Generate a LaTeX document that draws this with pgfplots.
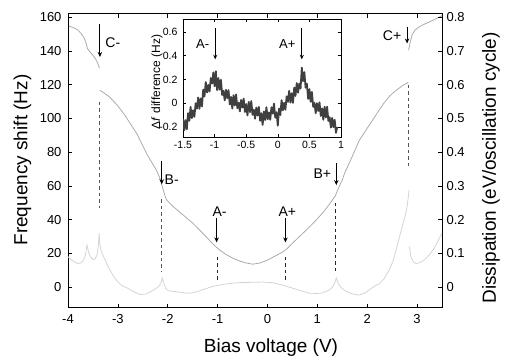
\documentclass[border=0pt]{standalone}
\usepackage{fontspec}
\setmainfont{Liberation Sans}
\usepackage{pgfplots}
\pgfplotsset{compat=1.18}
\usetikzlibrary{arrows.meta}
\definecolor{freqc}{HTML}{ABABAB}
\definecolor{dissc}{HTML}{D4D4D4}
\definecolor{dashc}{HTML}{555555}
\definecolor{insetc}{HTML}{404040}

\pgfplotstableread{
x y
-4.00 155
-3.90 154
-3.80 152.5
-3.74 150.5
-3.68 148
-3.64 145
-3.61 141.5
-3.56 139.5
-3.50 137.5
-3.44 135
-3.40 132.5
-3.37 130
}\freqA

\pgfplotstableread{
x y
-3.36 116.7
-3.26 114.8
-3.16 112.6
-3.00 107.5
-2.86 102
-2.74 96.5
-2.62 91
-2.52 85
-2.42 79
-2.32 74
-2.22 69
-2.15 64
-2.10 58.7
-2.06 54.5
-2.02 51.6
-1.90 48
-1.76 44.5
-1.62 41
-1.50 38
-1.36 33.8
-1.22 29.6
-1.10 25.7
-0.96 22
-0.84 19.5
-0.70 17.2
-0.56 15.5
-0.44 14.4
-0.30 13.6
-0.16 14.2
0.00 16
0.14 18.2
0.30 20.7
0.40 23
0.50 26
0.66 30.5
0.84 35.6
1.00 40.5
1.10 43.8
1.20 47.5
1.30 51.6
1.36 54
1.40 57
1.46 61
1.50 63.5
1.54 67
1.60 71
1.70 77.5
1.84 87
1.94 91.5
2.04 96
2.14 100.5
2.24 105
2.34 109.3
2.44 113
2.54 115.8
2.64 118
2.72 119.8
2.80 121
2.82 121.5
}\freqB

\pgfplotstableread{
x y
2.83 140.5
2.86 145
2.90 149.5
2.96 152.5
3.05 154.5
3.15 156
3.30 158
3.40 159.5
3.50 161
}\freqC

\pgfplotstableread{
x y
-4.00 0.090
-3.94 0.082
-3.88 0.075
-3.80 0.070
-3.74 0.072
-3.69 0.080
-3.65 0.095
-3.62 0.125
-3.59 0.105
-3.55 0.090
-3.50 0.082
-3.46 0.083
-3.42 0.095
-3.39 0.125
-3.375 0.160
-3.36 0.125
-3.33 0.105
-3.28 0.088
-3.20 0.062
-3.10 0.035
-3.00 0.015
-2.90 0.003
-2.82 -0.002
-2.70 -0.012
-2.56 -0.022
-2.45 -0.021
-2.35 -0.014
-2.25 -0.006
-2.17 0.004
-2.13 0.014
-2.11 0.027
-2.08 0.012
-2.04 -0.004
-1.98 -0.011
-1.88 -0.013
-1.76 -0.015
-1.62 -0.018
-1.50 -0.017
-1.36 -0.011
-1.22 -0.004
-1.10 0.002
-0.96 0.006
-0.80 0.010
-0.60 0.013
-0.36 0.014
-0.10 0.015
0.10 0.013
0.30 0.006
0.50 -0.003
0.70 -0.012
0.84 -0.018
1.00 -0.019
1.10 -0.0175
1.22 -0.010
1.30 -0.001
1.35 0.013
1.38 0.027
1.42 0.010
1.48 -0.002
1.56 -0.011
1.64 -0.017
1.75 -0.022
1.84 -0.0235
1.95 -0.018
2.05 -0.007
2.15 0.003
2.24 0.010
2.34 0.025
2.44 0.050
2.52 0.078
2.58 0.110
2.64 0.145
2.70 0.178
2.76 0.210
2.80 0.238
2.84 0.288
}\dissA

\pgfplotstableread{
x y
2.845 0.120
2.88 0.088
2.93 0.074
2.98 0.070
3.05 0.072
3.15 0.081
3.24 0.094
3.35 0.117
3.50 0.160
}\dissB

\pgfplotstableread{
x y
-1.50 -0.13
-1.48 -0.227
-1.46 -0.143
-1.44 -0.22
-1.42 -0.084
-1.40 -0.148
-1.38 -0.032
-1.36 -0.126
-1.34 -0.06
-1.32 -0.115
-1.30 -0.001
-1.28 -0.046
-1.26 0.048
-1.24 -0.047
-1.22 0.04
-1.20 -0.027
-1.18 0.115
-1.16 0.057
-1.14 0.179
-1.12 0.09
-1.10 0.154
-1.08 0.098
-1.06 0.212
-1.04 0.166
-1.02 0.26
-1.00 0.143
-0.98 0.27
-0.96 0.11
-0.94 0.212
-0.92 0.114
-0.90 0.197
-0.88 0.069
-0.86 0.105
-0.84 0.024
-0.82 0.113
-0.80 0.042
-0.78 0.111
-0.76 -0.01
-0.74 0.053
-0.72 -0.045
-0.70 0.068
-0.68 -0.019
-0.66 0.074
-0.64 -0.042
-0.62 0.004
-0.60 -0.069
-0.58 0.027
-0.56 -0.037
-0.54 0.039
-0.52 -0.074
-0.50 -0.008
-0.48 -0.103
-0.46 0.011
-0.44 -0.076
-0.42 0.018
-0.40 -0.098
-0.38 -0.054
-0.36 -0.131
-0.34 -0.037
-0.32 -0.104
-0.30 -0.031
-0.28 -0.148
-0.26 -0.085
-0.24 -0.183
-0.22 -0.07
-0.20 -0.142
-0.18 -0.034
-0.16 -0.136
-0.14 -0.078
-0.12 -0.14
-0.10 -0.034
-0.08 -0.089
-0.06 -0.003
-0.04 -0.122
-0.02 -0.076
0.00 -0.19
0.02 -0.045
0.04 -0.10
0.06 0.025
0.08 -0.06
0.10 0.003
0.12 -0.055
0.14 0.058
0.16 0.011
0.18 0.104
0.20 0.005
0.22 0.084
0.24 0.003
0.26 0.132
0.28 0.061
0.30 0.17
0.32 0.088
0.34 0.165
0.36 0.123
0.38 0.30
0.40 0.186
0.42 0.262
0.44 0.131
0.46 0.164
0.48 0.036
0.50 0.119
0.52 0.012
0.54 0.095
0.56 -0.031
0.58 0.003
0.60 -0.084
0.62 0.0
0.64 -0.066
0.66 0.008
0.68 -0.108
0.70 -0.044
0.72 -0.14
0.74 -0.03
0.76 -0.12
0.78 -0.03
0.80 -0.15
0.82 -0.118
0.84 -0.206
0.86 -0.124
0.88 -0.202
0.90 -0.14
0.92 -0.25
0.94 -0.20
}\inset

\begin{document}
\begin{tikzpicture}
\path[use as bounding box] (-68pt,-50pt) rectangle (437pt,308pt);
\pgfplotsset{
  mainax/.style={
    at={(0pt,0pt)}, anchor=south west,
    scale only axis, width=374pt, height=294pt,
    xmin=-4, xmax=3.5,
    tick align=inside,
    major tick length=4pt,
    every tick/.style={black, line width=0.7pt},
    axis line style={line width=1pt},
    /pgf/number format/assume math mode=true,
    ticklabel style={font=\fontsize{13}{15}\selectfont},
  }
}
\begin{axis}[mainax,
  ymin=-12.4, ymax=162,
  xtick={-4,-3,-2,-1,0,1,2,3},
  xticklabels={-4,-3,-2,-1,0,1,2,3},
  xtick pos=both, xticklabel pos=lower,
  ytick={0,20,40,60,80,100,120,140,160},
  yticklabels={0,20,40,60,80,100,120,140,160},
  ytick pos=left,
  xticklabel style={yshift=-3pt},
  yticklabel style={xshift=-3pt},
]
\addplot[freqc, line width=0.8pt] table {\freqA};
\addplot[freqc, line width=0.8pt] table {\freqB};
\addplot[freqc, line width=0.8pt] table {\freqC};
% dashed markers
\draw[dashc, line width=1.1pt, dash pattern=on 3.5pt off 3pt] (axis cs:-3.36,110) -- (axis cs:-3.36,47);
\draw[dashc, line width=1.1pt, dash pattern=on 3.5pt off 3pt] (axis cs:-2.12,52) -- (axis cs:-2.12,9);
\draw[black!85, line width=1pt, dash pattern=on 3.5pt off 3pt] (axis cs:-1.0,18) -- (axis cs:-1.0,4);
\draw[black!85, line width=1pt, dash pattern=on 3.5pt off 3pt] (axis cs:0.36,18) -- (axis cs:0.36,4);
\draw[black!85, line width=1pt, dash pattern=on 3.5pt off 3pt] (axis cs:1.36,50) -- (axis cs:1.36,9);
\draw[dashc, line width=1.1pt, dash pattern=on 3.5pt off 3pt] (axis cs:2.82,120) -- (axis cs:2.82,70);
% arrows
\draw[-{Stealth[length=5pt,width=4.5pt]}, line width=0.9pt] (axis cs:-3.36,156) -- (axis cs:-3.36,136.5);
\draw[-{Stealth[length=5pt,width=4.5pt]}, line width=0.9pt] (axis cs:-2.12,75) -- (axis cs:-2.12,61);
\draw[-{Stealth[length=5pt,width=4.5pt]}, line width=0.9pt] (axis cs:-1.02,41) -- (axis cs:-1.02,26.5);
\draw[-{Stealth[length=5pt,width=4.5pt]}, line width=0.9pt] (axis cs:0.36,41) -- (axis cs:0.36,26.5);
\draw[-{Stealth[length=5pt,width=4.5pt]}, line width=0.9pt] (axis cs:1.38,73.5) -- (axis cs:1.38,60.5);
\draw[-{Stealth[length=5pt,width=4.5pt]}, line width=0.9pt] (axis cs:2.80,154.5) -- (axis cs:2.80,144.5);
\node[font=\fontsize{14}{16}\selectfont] at (axis cs:-3.1,145) {C-};
\node[font=\fontsize{14}{16}\selectfont] at (axis cs:-1.92,63.5) {B-};
\node[font=\fontsize{14}{16}\selectfont] at (axis cs:-0.96,44.5) {A-};
\node[font=\fontsize{14}{16}\selectfont] at (axis cs:0.40,44.5) {A+};
\node[font=\fontsize{14}{16}\selectfont] at (axis cs:1.10,67.5) {B+};
\node[font=\fontsize{14}{16}\selectfont] at (axis cs:2.50,149) {C+};
\end{axis}

\begin{axis}[mainax,
  ymin=-0.062, ymax=0.81,
  hide x axis,
  ytick={0,0.1,0.2,0.3,0.4,0.5,0.6,0.7,0.8},
  yticklabels={0,0.1,0.2,0.3,0.4,0.5,0.6,0.7,0.8},
  ytick pos=right, yticklabel pos=right,
  yticklabel style={xshift=1pt},
]
\addplot[dissc, line width=0.8pt] table {\dissA};
\addplot[dissc, line width=0.8pt] table {\dissB};
\end{axis}

\begin{axis}[
  at={(115pt,171pt)}, anchor=south west,
  scale only axis, width=158pt, height=118pt,
  xmin=-1.5, xmax=1, ymin=-0.285, ymax=0.71,
  axis background/.style={fill=white},
  tick align=inside,
  major tick length=3pt,
  every tick/.style={black, line width=0.6pt},
  axis line style={line width=0.9pt},
  xtick={-1.5,-1,-0.5,0,0.5,1},
  xticklabels={-1.5,-1,-0.5,0,0.5,1},
  ytick={-0.2,0,0.2,0.4,0.6},
  yticklabels={-0.2,0,0.2,0.4,0.6},
  /pgf/number format/assume math mode=true,
  ticklabel style={font=\fontsize{10.5}{12}\selectfont},
  xticklabel style={yshift=-1pt},
  yticklabel style={xshift=-2pt},
  clip=true,
]
\addplot[insetc, line width=1.8pt, line join=round] table {\inset};
\draw[-{Stealth[length=4.5pt,width=4pt]}, line width=0.8pt] (axis cs:-0.99,0.63) -- (axis cs:-0.99,0.37);
\draw[-{Stealth[length=4.5pt,width=4pt]}, line width=0.8pt] (axis cs:0.38,0.63) -- (axis cs:0.38,0.37);
\node[font=\fontsize{13}{15}\selectfont] at (axis cs:-1.19,0.50) {A-};
\node[font=\fontsize{13}{15}\selectfont] at (axis cs:0.15,0.50) {A+};
\end{axis}

\node[rotate=90, font=\fontsize{12}{14}\selectfont] at (89pt,226pt) {Δ\textit{f} difference (Hz)};
\node[font=\fontsize{19}{21}\selectfont] at (203pt,-40pt) {Bias voltage (V)};
\node[rotate=90, font=\fontsize{19}{21}\selectfont] at (-45.5pt,148pt) {Frequency shift (Hz)};
\node[rotate=90, font=\fontsize{19}{21}\selectfont] at (423pt,140pt) {Dissipation (eV/oscillation cycle)};
\end{tikzpicture}
\end{document}
